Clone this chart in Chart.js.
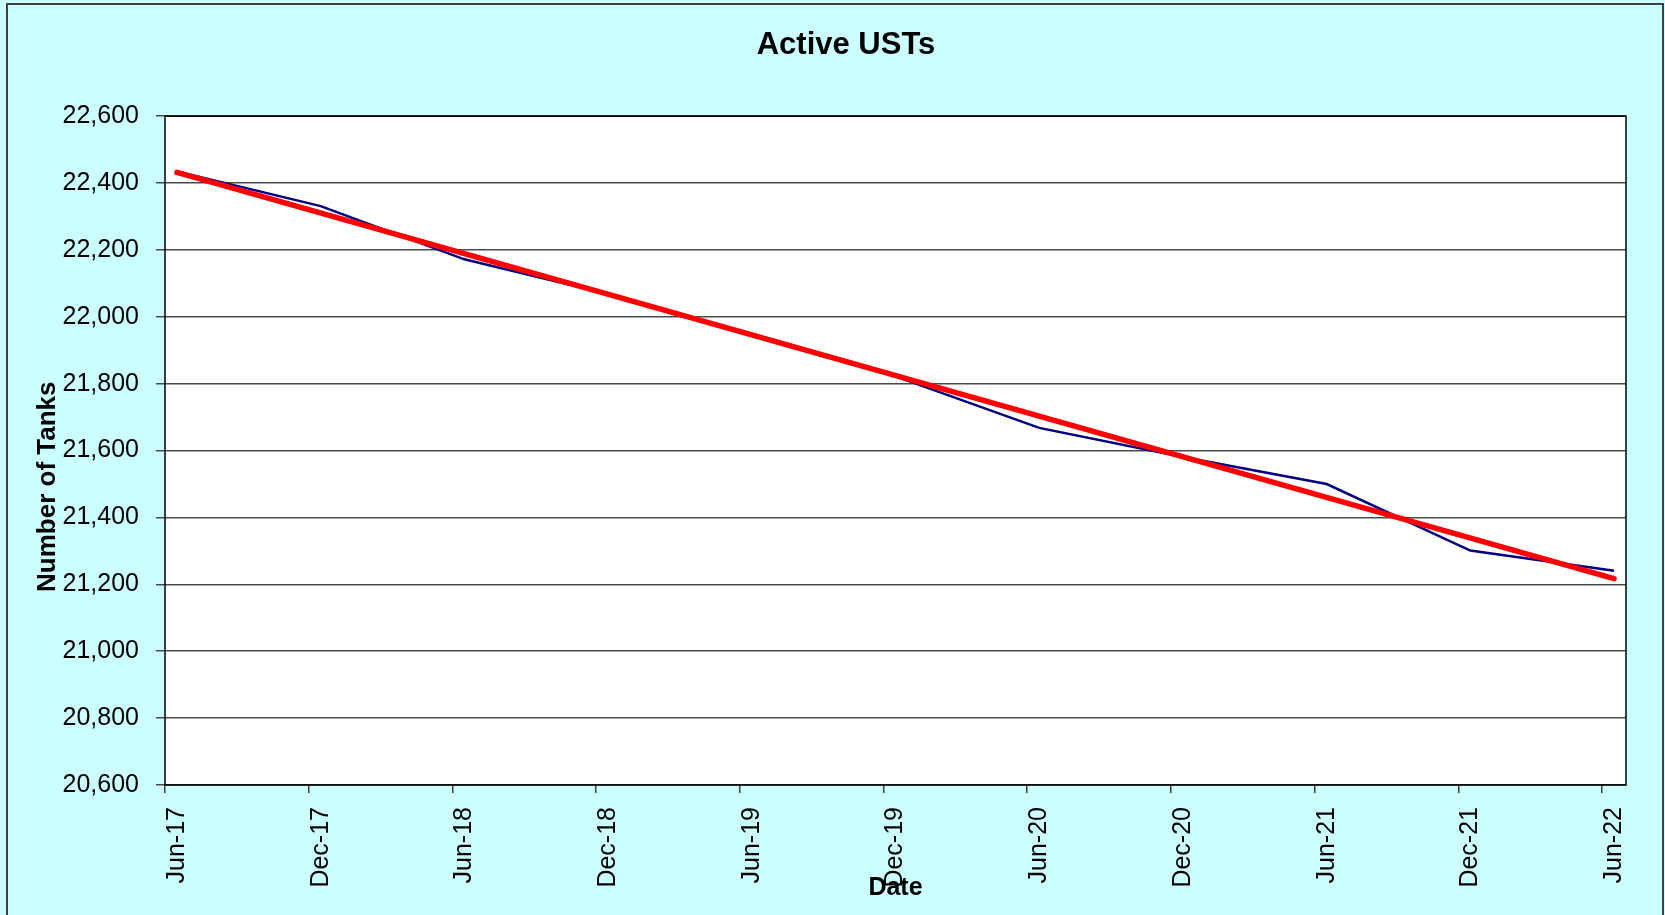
<!DOCTYPE html>
<html><head><meta charset="utf-8">
<script src="https://cdn.jsdelivr.net/npm/chart.js@4.4.1/dist/chart.umd.min.js"></script>
<style>html,body{margin:0;padding:0;background:#CCFFFF;overflow:hidden}
#wrap{width:1665px;height:915px;position:relative}</style>
</head><body><div id="wrap"><canvas id="c" width="1665" height="915"></canvas></div>
<script>
// ---- data ----
const dateLabels = ['Jun-17','Dec-17','Jun-18','Dec-18','Jun-19','Dec-19','Jun-20','Dec-20','Jun-21','Dec-21','Jun-22'];
const activeTanks = [22435, 22331, 22172, 22068, 21947, 21822, 21668, 21581, 21500, 21301, 21241];
const trendEnds = [22432, 21217];           // linear trend line, first and last date
const yMin = 20600, yMax = 22600, yStep = 200;
const monthsPerLabel = 6;                     // half-yearly observations
const axisMonths = 61;                        // Jun-17 .. end of Jun-22

const FONT = "'Liberation Sans', Arial, sans-serif";
const xOf = i => i * monthsPerLabel + 0.5;    // centre of the month bucket

const blueData = activeTanks.map((v, i) => ({x: xOf(i), y: v}));
const redData = [{x: xOf(0), y: trendEnds[0]}, {x: xOf(dateLabels.length - 1), y: trendEnds[1]}];

const frame = {
  id: 'frame',
  beforeDraw(chart) {
    const {ctx, chartArea: a} = chart;
    ctx.save();
    ctx.fillStyle = '#CCFFFF';
    ctx.fillRect(0, 0, chart.width, chart.height);
    ctx.strokeStyle = '#404040';
    ctx.lineWidth = 2;
    ctx.strokeRect(7, 4, 1656, 940);
    ctx.fillStyle = '#FFFFFF';
    ctx.fillRect(a.left, a.top, a.right - a.left, a.bottom - a.top);
    ctx.restore();
  },
  afterDatasetsDraw(chart) {
    const {ctx, chartArea: a} = chart;
    ctx.save();
    ctx.strokeStyle = '#000000';
    ctx.lineWidth = 1.5;
    ctx.strokeRect(a.left, a.top, a.right - a.left, a.bottom - a.top);
    ctx.restore();
  }
};

new Chart(document.getElementById('c'), {
  type: 'line',
  data: {
    datasets: [
      {label: 'Trend', data: redData, borderColor: '#FF0000', borderWidth: 5.5, borderCapStyle: 'round',
       pointRadius: 0, tension: 0, order: 0, fill: false},
      {label: 'Active USTs', data: blueData, borderColor: '#000080', borderWidth: 2.5,
       pointRadius: 0, tension: 0, order: 1, fill: false}
    ]
  },
  options: {
    responsive: false,
    animation: false,
    layout: {padding: {left: 27, right: 0, top: 0, bottom: 0}},
    plugins: {
      legend: {display: false},
      tooltip: {enabled: false},
      title: {
        display: true, text: 'Active USTs', color: '#000',
        font: {family: FONT, size: 31, weight: 'bold'},
        padding: {top: 27, bottom: 52}
      }
    },
    scales: {
      x: {
        type: 'linear', position: 'bottom', min: 0, max: axisMonths,
        afterBuildTicks: s => { s.ticks = dateLabels.map((_, i) => ({value: i * monthsPerLabel})); },
        afterFit: s => { s.height = 130; },
        grid: {display: true, drawOnChartArea: false, drawTicks: true, tickLength: 8, color: '#404040', lineWidth: 1.5},
        border: {display: false},
        ticks: {
          autoSkip: false, maxRotation: 90, minRotation: 90, labelOffset: 12, padding: 14,
          color: '#000', font: {family: FONT, size: 25},
          callback: (v, i) => dateLabels[i]
        },
        title: {display: true, text: 'Date', color: '#000', font: {family: FONT, size: 25, weight: 'bold'},
                padding: {top: 0, bottom: 12}}
      },
      y: {
        type: 'linear', position: 'left', min: yMin, max: yMax,
        afterFit: s => { s.width = 138; },
        grid: {color: '#4a4a4a', lineWidth: 1.5, tickLength: 9},
        border: {display: false},
        ticks: {stepSize: yStep, padding: 17, color: '#000', font: {family: FONT, size: 25},
                callback: v => v.toLocaleString('en-US')},
        title: {display: true, text: 'Number of Tanks' + ' '.repeat(10), color: '#000',
                font: {family: FONT, size: 26, weight: 'bold'}, padding: {top: 5, bottom: 0}}
      },
      yR: {
        type: 'linear', position: 'right', display: true,
        afterFit: s => { s.width = 39; },
        grid: {display: false, drawTicks: false},
        border: {display: false},
        ticks: {display: false}
      }
    }
  },
  plugins: [frame]
});
</script>
</body></html>
